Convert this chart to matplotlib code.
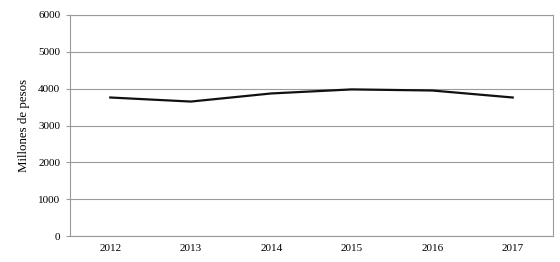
import numpy as np
import matplotlib
matplotlib.use("Agg")
import matplotlib.pyplot as plt

years = ["2012", "2013", "2014", "2015", "2016", "2017"]
valores = [3760, 3650, 3870, 3980, 3950, 3760]
yticks = [0, 1000, 2000, 3000, 4000, 5000, 6000]

plt.rcParams['font.family'] = ['Liberation Serif', 'DejaVu Serif']

fig = plt.figure(figsize=(5.6, 2.62), dpi=100)
ax = fig.add_axes([70/560, 1 - 236/262, 483/560, 221/262])

x = np.arange(len(years))
ax.plot(x, valores, color='#111111', lw=1.6, solid_joinstyle='round')

ax.set_xlim(-0.5, len(years) - 0.5)
ax.set_ylim(0, 6000)
ax.set_yticks(yticks)
ax.set_xticks(x)
ax.set_xticklabels(years)
ax.yaxis.grid(True, color='#9a9a9a', lw=0.8)
ax.set_axisbelow(True)
for s in ax.spines.values():
    s.set_color('#9a9a9a')
    s.set_linewidth(0.8)
ax.tick_params(axis='both', labelsize=8, length=3, color='#9a9a9a', pad=4)
ax.tick_params(axis='x', length=0, pad=6)
ax.set_ylabel("Millones de pesos", fontsize=9.3, labelpad=6)

fig.savefig("out.png", dpi=100)
